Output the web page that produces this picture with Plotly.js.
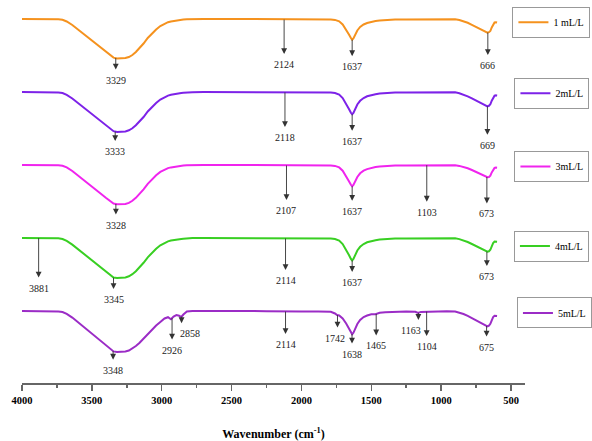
<!DOCTYPE html>
<html>
<head>
<meta charset="utf-8">
<script src="https://cdn.plot.ly/plotly-3.0.1.min.js"></script>
<style>html,body{margin:0;padding:0;background:#fff;}#chart{width:592px;height:441px;}</style>
</head>
<body>
<div id="chart"></div>
<script>
// ---------- DATA ----------
const wavenumber = [4000,3900,3800,3740,3710,3680,3640,3600,3560,3520,3480,3440,3400,3370,3345,3320,3290,3260,3235,3210,3185,3160,3130,3100,3070,3040,3010,2980,2955,2934,2915,2895,2875,2860,2845,2820,2780,2700,2550,2400,2250,2124,2000,1880,1790,1760,1745,1730,1705,1680,1660,1646,1637,1628,1615,1600,1580,1555,1530,1500,1470,1440,1400,1330,1250,1185,1165,1145,1105,1040,960,900,870,840,810,780,750,720,695,680,669,658,648,638,628,618,608,600];

const trans1 = [100,100,99.8,99.7,99.2,97.5,94,89.5,85,80.5,76,71.5,67,63.5,61.4,60.6,60.6,61,62,64,67,70.5,75.5,81,85.5,89.5,93,95.5,96.8,97.5,98,98.5,98.9,99.2,99.4,99.7,99.9,100,100,100,99.8,99.4,99.5,99.7,99.6,99.1,98.6,97.7,94.5,89.5,84.5,81,79.3,80.5,84.5,88.5,92,94.5,96,97.2,98,98.5,99,99.4,99.6,99.7,99.7,99.7,99.8,99.9,100,99.8,99,97.7,96.2,94.2,92.2,90.2,88.4,87.3,86.4,86.8,88,91.5,95,96.5,96.8,96.5];

const trans2 = [100,100,99.9,99.6,99,97.2,93.5,89,84.5,80,75.5,71,66.5,63,60.8,60,60.1,60.6,61.7,63.7,66.7,70.2,75,80.5,85,89,92.5,95,96.4,97.2,97.8,98.3,98.7,99,99.2,99.5,99.8,100,100,100,99.8,99.5,99.6,99.7,99.5,99,98.4,97.4,94,88.5,83,79.2,77.7,79,83.2,87.5,91.2,94,95.7,97,97.8,98.4,98.9,99.4,99.6,99.7,99.7,99.7,99.8,99.9,100,99.7,98.8,97.4,95.7,93.7,91.6,89.5,87.6,86.5,85.7,86.2,87.7,91.3,94.8,96.3,96.6,96.2];

const trans3 = [100,100,99.8,99.7,99.2,97.6,94,89.7,85.2,80.7,76.2,71.7,67.2,63.8,61.5,60.7,60.7,61.1,62.1,64.2,67.2,70.7,75.7,81.2,85.7,89.7,93.1,95.6,96.9,97.6,98.1,98.6,99,99.2,99.4,99.7,99.9,100,100,100,99.8,99.5,99.6,99.7,99.6,99.1,98.6,97.6,94.3,89,83.8,80.2,78.7,80,84,88,91.7,94.3,95.9,97.1,97.9,98.5,99,99.4,99.6,99.7,99.7,99.7,99.8,99.9,100,99.8,99.1,98,96.7,95,93.2,91.4,89.7,88.5,87.8,88,89.4,92.6,95.7,97.1,97.5,97.3];

const trans4 = [100,100,99.9,99.7,99,97.2,93.4,88.8,84.2,79.6,75,70.5,66,62.5,60.4,60,60.1,60.6,61.7,63.8,66.8,70.4,75.2,80.7,85.2,89.2,92.7,95.2,96.6,97.4,98,98.5,98.9,99.1,99.3,99.6,99.9,100,100,100,99.8,99.5,99.6,99.7,99.5,99,98.4,97.4,94,88.5,83,79.1,77.6,79,83.2,87.5,91.2,94,95.7,97,97.8,98.4,98.9,99.4,99.6,99.7,99.7,99.7,99.8,99.9,100,99.7,98.9,97.6,96,94,92,90,88.1,86.8,86.3,86.7,88.2,91.6,95,96.4,96.7,96.2];

const trans5 = [100,100,99.8,99.6,99,97.2,93.4,88.8,84.1,79.4,74.7,70,65.4,61.8,59.6,59,59,59.5,60.5,62.5,65,68,72.5,77.5,82,85.5,89,92.5,93.8,91.7,94.5,96,95.2,94,96.5,99.5,99.9,100,100,100,99.8,99.4,99.5,99.6,99.2,97.5,96,95.5,92.5,87.5,82,78.2,76.8,78.2,82.5,87,91,94,95.5,96.7,96.8,98.2,98.8,99.3,99.4,99.2,98,99.1,99.4,99.7,99.8,99.5,98.5,97,95.2,93,90.8,88.6,86.6,85.2,84.7,85.4,87.2,90.7,94,95.2,95.4,95];

const seriesNames = ['1 mL/L','2mL/L','3mL/L','4mL/L','5mL/L'];

const peaks1 = [3329,2124,1637,666];
const peaks2 = [3333,2118,1637,669];
const peaks3 = [3328,2107,1637,1103,673];
const peaks4 = [3881,3345,2114,1637,673];
const peaks5 = [3348,2926,2858,2114,1742,1638,1465,1163,1104,675];

const xTicks = [4000,3500,3000,2500,2000,1500,1000,500];

// ---------- STYLE ----------
const FONT = '"Liberation Serif", Tinos, "Times New Roman", Times, "DejaVu Serif", serif';
const colors = ['#F5921E','#7D22E8','#F024EE','#38CF22','#9B2CC6'];
const offsets = [264,191,118,45,-28];
const labelDrop = [
  [22,45,27,33],
  [20,45,27,39],
  [21,45,25,47,37],
  [50,22,42,22,25],
  [19,32,17,33,23,20,32,17.5,35,21]
];
const labelNudge = [
  [0,0,0,0],[0,0,0,0],[0,0,0,0,0],[0,0,0,0,0],
  [0,0,8,0,-2,0,0,-7,0,0]
];
const legendPos = [[0.975,0.9418],[0.979,0.7563],[0.979,0.5653],[0.978,0.3577],[0.984,0.1828]];

const series = [trans1,trans2,trans3,trans4,trans5];
const peaks = [peaks1,peaks2,peaks3,peaks4,peaks5];

function interp(w, xs, ys){
  for(let i=0;i<xs.length-1;i++){
    if(w<=xs[i] && w>=xs[i+1]){
      const f=(xs[i]-w)/(xs[i]-xs[i+1]);
      return ys[i]+f*(ys[i+1]-ys[i]);
    }
  }
  return ys[ys.length-1];
}

const traces = series.map((t,i)=>({
  type:'scatter', mode:'lines', name:seriesNames[i],
  x:wavenumber, y:t.map(v=>v+offsets[i]),
  line:{color:colors[i], width:2},
  legend: i===0 ? 'legend' : 'legend'+(i+1),
  hoverinfo:'skip'
}));

const annotations = [];
peaks.forEach((pk,i)=>{
  pk.forEach((w,j)=>{
    const yv = interp(w, wavenumber, series[i]) + offsets[i];
    const drop = labelDrop[i][j];
    annotations.push({
      x:w, y:yv, xref:'x', yref:'y', text:' ', showarrow:true,
      ax:0, ay:drop-8, arrowside:'start', startarrowhead:2, startarrowsize:1.3,
      arrowwidth:0.9, arrowcolor:'#333', font:{size:2}
    });
    annotations.push({
      x:w, y:yv, xref:'x', yref:'y', text:String(w), showarrow:false,
      yshift:-drop, xshift:labelNudge[i][j],
      font:{family:FONT, size:10, color:'#222'}
    });
  });
});

const layout = {
  width:592, height:441,
  margin:{l:22, r:58, t:0, b:58, pad:0},
  paper_bgcolor:'#fff', plot_bgcolor:'#fff',
  font:{family:FONT, color:'#000'},
  showlegend:true,
  xaxis:{
    range:[4000,400], autorange:false,
    tickmode:'linear', tick0:500, dtick:500,
    ticks:'outside', ticklen:6, tickwidth:1.5, tickcolor:'#666',
    minor:{dtick:250, ticks:'outside', ticklen:3, tickwidth:1.5, tickcolor:'#666', showgrid:false},
    showline:true, linecolor:'#666', linewidth:2,
    showgrid:false, zeroline:false,
    tickfont:{family:FONT, size:10.5, color:'#000', weight:'bold'},
    title:{text:'<b>Wavenumber (cm<sup>-1</sup>)</b>', font:{family:FONT, size:12, color:'#000'}, standoff:30}
  },
  yaxis:{visible:false, range:[0,383], autorange:false, fixedrange:true},
  annotations:annotations
};
seriesNames.forEach((n,i)=>{
  const key = i===0 ? 'legend' : 'legend'+(i+1);
  layout[key] = {
    x:legendPos[i][0], y:legendPos[i][1], xref:'paper', yref:'paper',
    xanchor:'left', yanchor:'middle',
    bgcolor:'rgba(255,255,255,0)', bordercolor:'#999', borderwidth:1,
    font:{family:FONT, size:10, color:'#000'}, itemwidth:30
  };
});

Plotly.newPlot('chart', traces, layout, {displayModeBar:false, staticPlot:true});
</script>
</body>
</html>
